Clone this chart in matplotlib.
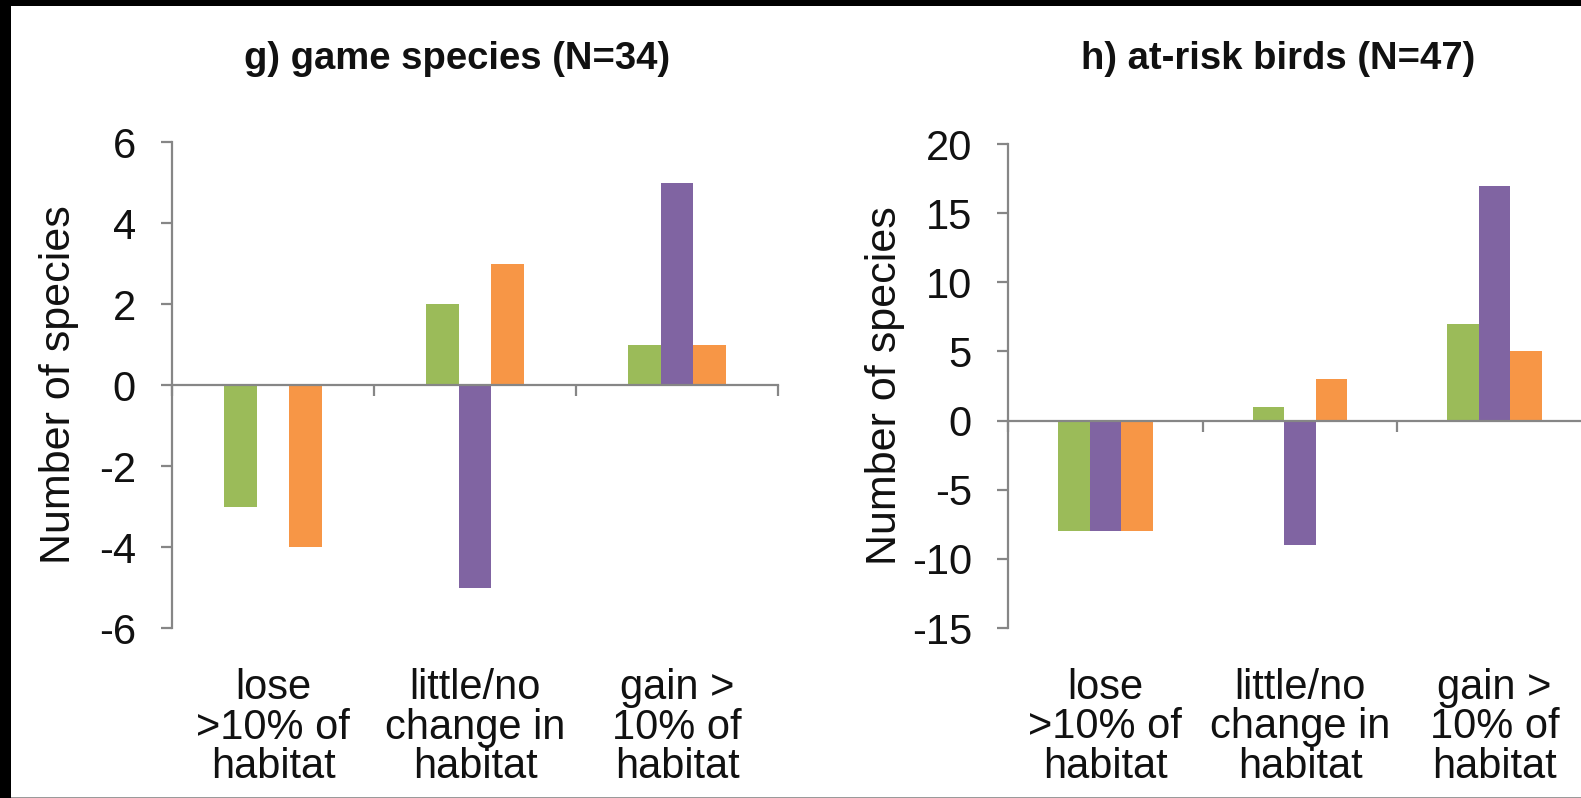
import numpy as np
import matplotlib.pyplot as plt
from matplotlib.patches import Rectangle
from matplotlib.transforms import blended_transform_factory

plt.rcParams['font.family'] = ['Liberation Sans', 'DejaVu Sans']
plt.rcParams['axes.unicode_minus'] = False

categories = ['lose\n>10% of\nhabitat', 'little/no\nchange in\nhabitat', 'gain >\n10% of\nhabitat']
colors = ['#9BBB59', '#8064A2', '#F79646']

# g) game species
game_green = [-3, 2, 1]
game_purple = [0, -5, 5]
game_orange = [-4, 3, 1]

# h) at-risk birds
risk_green = [-8, 1, 7]
risk_purple = [-8, -9, 17]
risk_orange = [-8, 3, 5]

axis_grey = '#868686'

fig = plt.figure(figsize=(15.81, 7.98), dpi=100)
fig.patch.set_facecolor('black')
fig.patches.append(Rectangle((11 / 1581, 1 / 798), 1 - 11 / 1581, 791 / 798,
                             transform=fig.transFigure, facecolor='white',
                             edgecolor='none', zorder=-10))
# thin grey rule along the bottom edge of the white sheet
fig.patches.append(Rectangle((11 / 1581, 0), 1 - 11 / 1581, 1.2 / 798,
                             transform=fig.transFigure, facecolor='#9a9a9a',
                             edgecolor='none', zorder=-9))


def panel(rect, series, ylim, yticks, title, title_x, ylabel_x):
    ax = fig.add_axes(rect)
    ax.set_zorder(2)
    ax.set_facecolor('none')
    x = np.arange(1, 4)
    w = 0.162
    for k, (vals, c) in enumerate(zip(series, colors)):
        ax.bar(x + (k - 1) * w, vals, width=w, color=c, zorder=2)
    ax.set_xlim(0.5, 3.5)
    ax.set_ylim(*ylim)
    ax.set_yticks(yticks)
    ax.set_xticks([0.5, 1.5, 2.5, 3.5])
    ax.set_xticklabels([])
    for s in ['top', 'right']:
        ax.spines[s].set_visible(False)
    ax.spines['bottom'].set_position(('data', 0))
    for s in ['left', 'bottom']:
        ax.spines[s].set_color(axis_grey)
        ax.spines[s].set_linewidth(1.6)
        ax.spines[s].set_zorder(3)
    ax.tick_params(axis='y', direction='out', length=8, width=1.6, color=axis_grey,
                   pad=18, labelsize=30, labelcolor='#111111')
    ax.tick_params(axis='x', direction='out', length=8, width=1.6, color=axis_grey)
    trans = blended_transform_factory(ax.transData, ax.transAxes)
    for i, lab in enumerate(categories):
        ax.text(i + 1, -0.205, lab, transform=trans, ha='center', va='center',
                fontsize=30, linespacing=0.99, color='#111111')
    fig.text(title_x, 0.926, title, ha='center', va='center', fontsize=27.5,
             fontweight='bold', color='#111111', zorder=3)
    fig.text(ylabel_x, rect[1] + rect[3] / 2, 'Number of species', rotation=90,
             ha='center', va='center', fontsize=31, color='#111111', zorder=3)
    return ax


panel([172 / 1581, 0.213, 606 / 1581, 0.609],
      [game_green, game_purple, game_orange], (-6, 6), range(-6, 7, 2),
      'g) game species (N=34)', 457 / 1581, 59 / 1581)
panel([1008 / 1581, 0.213, 584 / 1581, 0.6065],
      [risk_green, risk_purple, risk_orange], (-15, 20), range(-15, 21, 5),
      'h) at-risk birds (N=47)', 1278 / 1581, 885 / 1581)

fig.savefig('out.png', dpi=100, facecolor=fig.get_facecolor())
